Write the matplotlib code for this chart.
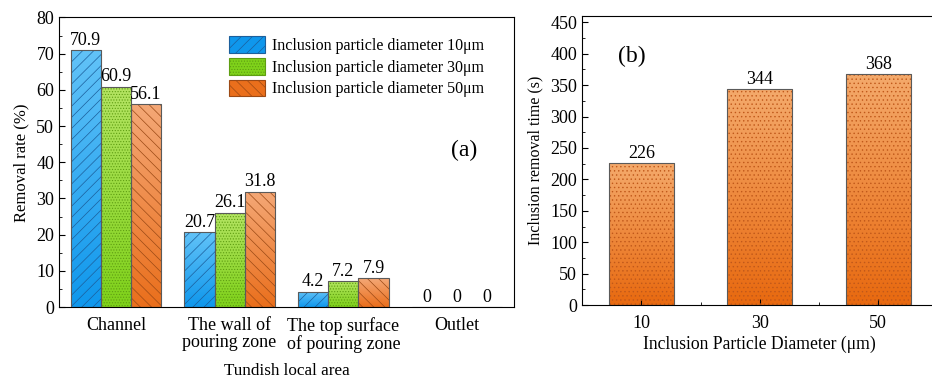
import numpy as np
import matplotlib
matplotlib.use("Agg")
import matplotlib.pyplot as plt
from matplotlib.colors import LinearSegmentedColormap
from matplotlib.patches import Patch
from matplotlib.ticker import MultipleLocator, FixedLocator

# ---- data ----
areas = ["Channel", "The wall of\npouring zone", "The top surface\nof pouring zone", "Outlet"]
series_labels = ["Inclusion particle diameter 10\u03bcm",
                 "Inclusion particle diameter 30\u03bcm",
                 "Inclusion particle diameter 50\u03bcm"]
rate_10 = [70.9, 20.7, 4.2, 0]
rate_30 = [60.9, 26.1, 7.2, 0]
rate_50 = [56.1, 31.8, 7.9, 0]

diameters = ["10", "30", "50"]
removal_time = [226, 344, 368]

# ---- style ----
plt.rcParams["font.family"] = ["Liberation Serif", "DejaVu Serif"]
plt.rcParams["font.size"] = 13
plt.rcParams["hatch.linewidth"] = 0.5

# (top colour, bottom colour, hatch colour, hatch)
styles = [
    ("#62c3f8", "#0f97ec", "#1c5f9c", "///"),
    ("#b4e463", "#7fd21a", "#5f9e12", "......"),
    ("#f4a877", "#ea6f1c", "#9c4a16", "\\\\\\"),
]
edge = "#5a5a5a"
fs = 13


def gradient_bars(ax, bars, c_top, c_bot):
    cmap = LinearSegmentedColormap.from_list("g", [c_bot, c_top])
    grad = np.linspace(0, 1, 256).reshape(-1, 1)
    for b in bars:
        x, y = b.get_xy()
        w, h = b.get_width(), b.get_height()
        if h <= 0:
            continue
        im = ax.imshow(grad, extent=[x, x + w, y, y + h], origin="lower",
                       cmap=cmap, aspect="auto", zorder=1, interpolation="bilinear")
        im.set_clip_path(b)


fig = plt.figure(figsize=(9.32, 3.8), dpi=100)

# ---- panel (a) ----
ax1 = fig.add_axes([0.0633, 0.192, 0.4882, 0.762])
x = np.arange(len(areas))
width = 0.265
for i, vals in enumerate([rate_10, rate_30, rate_50]):
    top, bot, hc, hatch = styles[i]
    pos = x + (i - 1) * width
    bars = ax1.bar(pos, vals, width, facecolor="none", edgecolor=edge, linewidth=0.8, zorder=3)
    gradient_bars(ax1, bars, top, bot)
    ax1.bar(pos, vals, width, facecolor="none", edgecolor=hc, hatch=hatch, linewidth=0, zorder=2)
    for p, v in zip(pos, vals):
        ax1.text(p, v + 0.4, f"{v:g}", ha="center", va="bottom", fontsize=fs)

ax1.set_xlim(-0.5, 3.5)
ax1.set_ylim(0, 80)
ax1.set_xticks(x)
ax1.set_xticklabels(areas, fontsize=fs, linespacing=1.05)
ax1.tick_params(axis="x", length=0, pad=7)
ax1.yaxis.set_major_locator(MultipleLocator(10))
ax1.yaxis.set_minor_locator(MultipleLocator(5))
ax1.tick_params(axis="y", which="both", direction="in", labelsize=fs)
ax1.tick_params(axis="y", which="major", length=4)
ax1.tick_params(axis="y", which="minor", length=2.5)
ax1.set_ylabel("Removal rate (%)", fontsize=12, labelpad=5)
ax1.set_xlabel("Tundish local area", fontsize=12.3, labelpad=7)
ax1.text(0.89, 0.54, "(a)", transform=ax1.transAxes, fontsize=17, ha="center", va="center")

handles = [Patch(facecolor=s[1], edgecolor=s[2], hatch=s[3], linewidth=0.8) for s in styles]
ax1.legend(handles, series_labels, loc="upper right", bbox_to_anchor=(0.958, 0.975),
           frameon=False, fontsize=11.5, handlelength=2.25, handleheight=1.25,
           handletextpad=0.4, labelspacing=0.25, borderaxespad=0.3)

# ---- panel (b) ----
ax2 = fig.add_axes([0.6245, 0.197, 0.3814, 0.761])
xb = np.arange(len(diameters))
bars = ax2.bar(xb, removal_time, 0.55, facecolor="none", edgecolor=edge, linewidth=0.8, zorder=3)
gradient_bars(ax2, bars, "#f4aa6c", "#e8690f")
ax2.bar(xb, removal_time, 0.55, facecolor="none", edgecolor="#c0581a", hatch="....",
        linewidth=0, zorder=2)
for p, v in zip(xb, removal_time):
    ax2.text(p, v + 2, f"{v}", ha="center", va="bottom", fontsize=fs)

ax2.set_xlim(-0.5, 2.5)
ax2.set_ylim(0, 460)
ax2.set_xticks(xb)
ax2.set_xticklabels(diameters, fontsize=fs)
ax2.xaxis.set_minor_locator(FixedLocator([0.5, 1.5]))
ax2.yaxis.set_major_locator(MultipleLocator(50))
ax2.yaxis.set_minor_locator(MultipleLocator(25))
ax2.tick_params(which="both", direction="in", labelsize=fs)
ax2.tick_params(which="major", length=4)
ax2.tick_params(which="minor", length=2.5)
ax2.tick_params(axis="x", pad=7)
ax2.set_ylabel("Inclusion removal time (s)", fontsize=11.5, labelpad=5)
ax2.set_xlabel("Inclusion Particle Diameter (\u03bcm)", fontsize=12.7, labelpad=3)
ax2.text(0.14, 0.86, "(b)", transform=ax2.transAxes, fontsize=17, ha="center", va="center")

fig.savefig("out.png", dpi=100)
